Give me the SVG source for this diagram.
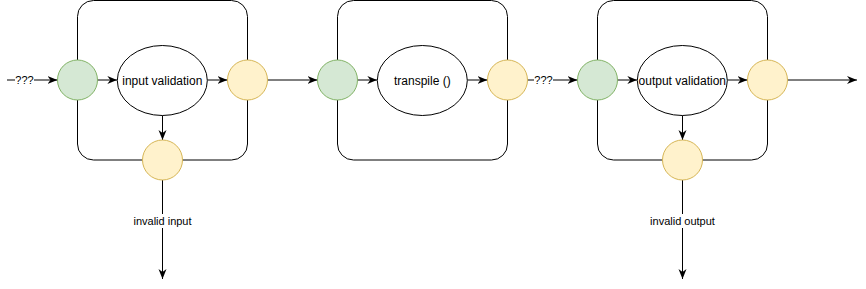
<svg xmlns="http://www.w3.org/2000/svg" width="866" height="289" viewBox="0 0 866 289">
  <style>
    .frame { fill: none; stroke: #000; stroke-width: 1; }
    .green { fill: #d5e8d4; stroke: #82b366; stroke-width: 1; }
    .yellow { fill: #fff2cc; stroke: #d6b656; stroke-width: 1; }
    .proc { fill: #fff; stroke: #000; stroke-width: 1; }
    .edge { fill: none; stroke: #000; stroke-width: 1; marker-end: url(#arrow); }
    .label { font-family: "Liberation Sans", Arial, sans-serif; font-size: 12px; fill: #000; text-anchor: middle; }
    .elabel { font-family: "Liberation Sans", Arial, sans-serif; font-size: 11px; fill: #000; text-anchor: middle; }
    .bg { fill: #fff; }
  </style>
  <defs>
    <marker id="arrow" viewBox="0 0 10 10" refX="10" refY="5" markerWidth="10" markerHeight="10" markerUnits="userSpaceOnUse" orient="auto">
      <path d="M0,1 L10,5 L0,9 L3,5 Z" fill="#000"/>
    </marker>
  </defs>

  <!-- stage frames -->
  <g id="stage-input">
    <rect class="frame" x="77.5" y="0.5" width="170" height="159.5" rx="16" ry="16"/>
  </g>
  <g id="stage-transpile">
    <rect class="frame" x="337.5" y="0.5" width="170" height="159.5" rx="16" ry="16"/>
  </g>
  <g id="stage-output">
    <rect class="frame" x="597.5" y="0.5" width="170" height="159.5" rx="16" ry="16"/>
  </g>

  <!-- connectors -->
  <g id="connectors">
    <path class="edge" d="M7,80 L57.5,80"/>
    <path class="edge" d="M97.5,80 L117.3,80"/>
    <path class="edge" d="M207.3,80 L227.5,80"/>
    <path class="edge" d="M162.5,115.5 L162.5,140"/>
    <path class="edge" d="M162.5,180 L162.5,279"/>
    <path class="edge" d="M267.5,80 L317.5,80"/>
    <path class="edge" d="M357.5,80 L377.3,80"/>
    <path class="edge" d="M467.3,80 L487.5,80"/>
    <path class="edge" d="M527.5,80 L577.5,80"/>
    <path class="edge" d="M617.5,80 L637.3,80"/>
    <path class="edge" d="M727.3,80 L747.5,80"/>
    <path class="edge" d="M682.5,115.5 L682.5,140"/>
    <path class="edge" d="M682.5,180 L682.5,279"/>
    <path class="edge" d="M787.5,80 L857,80"/>
    <!-- edge labels -->
    <rect class="bg" x="15" y="73" width="19" height="13"/>
    <text class="elabel" x="24.5" y="84">???</text>
    <rect class="bg" x="534" y="73" width="19" height="13"/>
    <text class="elabel" x="543.5" y="84">???</text>
    <rect class="bg" x="134" y="214" width="58" height="14"/>
    <text class="elabel" x="162.5" y="225">invalid input</text>
    <rect class="bg" x="650" y="214" width="65" height="14"/>
    <text class="elabel" x="682.5" y="225">invalid output</text>
  </g>

  <!-- input validation stage -->
  <g id="in-entry"><circle class="green" cx="77.5" cy="80" r="20"/></g>
  <g id="in-validate">
    <ellipse class="proc" cx="162.3" cy="80.5" rx="45" ry="35"/>
    <text class="label" x="162.3" y="85">input validation</text>
  </g>
  <g id="in-exit"><circle class="yellow" cx="247.5" cy="80" r="20"/></g>
  <g id="in-error"><circle class="yellow" cx="162.5" cy="160" r="20"/></g>

  <!-- transpile stage -->
  <g id="tr-entry"><circle class="green" cx="337.5" cy="80" r="20"/></g>
  <g id="tr-transpile">
    <ellipse class="proc" cx="422.3" cy="80.5" rx="45" ry="35"/>
    <text class="label" x="422.3" y="85">transpile ()</text>
  </g>
  <g id="tr-exit"><circle class="yellow" cx="507.5" cy="80" r="20"/></g>

  <!-- output validation stage -->
  <g id="out-entry"><circle class="green" cx="597.5" cy="80" r="20"/></g>
  <g id="out-validate">
    <ellipse class="proc" cx="682.3" cy="80.5" rx="45" ry="35"/>
    <text class="label" x="682.3" y="85">output validation</text>
  </g>
  <g id="out-exit"><circle class="yellow" cx="767.5" cy="80" r="20"/></g>
  <g id="out-error"><circle class="yellow" cx="682.5" cy="160" r="20"/></g>
</svg>
